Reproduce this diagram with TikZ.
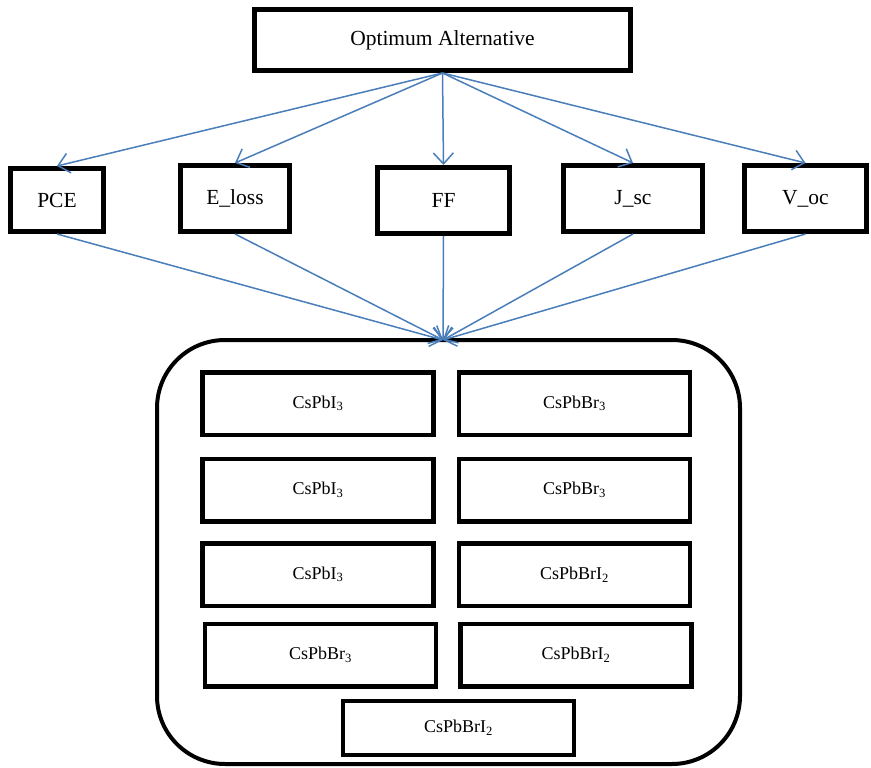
\documentclass[tikz,border=0pt]{standalone}
\usepackage{fontspec}
\setmainfont{Liberation Serif}
\usetikzlibrary{arrows.meta}
\definecolor{arrowblue}{HTML}{4A7EBB}
\begin{document}
\begin{tikzpicture}[x=1pt,y=-1pt,
  topbox/.style={draw,line width=5pt,inner sep=0pt,font=\fontsize{21.5}{24}\selectfont},
  innerbox/.style={draw,line width=4.5pt,inner sep=0pt,minimum width=231pt,minimum height=62.5pt,font=\fontsize{18}{21}\selectfont},
  conn/.style={draw=arrowblue,line width=1.5pt,-{Straight Barb[length=11pt,width=20pt,line width=1.5pt]}}]
\useasboundingbox (0,0) rectangle (871,768);
% container
\node[draw,line width=4pt,rounded corners=68pt,minimum width=583pt,minimum height=424pt,inner sep=0pt] (group) at (448.5,552) {};
\coordinate (conv) at (443,340);
% top
\node[topbox,minimum width=376pt,minimum height=61pt] (opt) at (442.5,40) {Optimum Alternative};
\node[topbox,minimum width=93pt,minimum height=63pt] (pce) at (57,200) {PCE};
\node[topbox,minimum width=109pt,minimum height=66pt] (eloss) at (235,198.5) {E\_loss};
\node[topbox,minimum width=132pt,minimum height=66pt] (ff) at (443.5,200.5) {FF};
\node[topbox,minimum width=139pt,minimum height=66pt] (jsc) at (633,198.5) {J\_sc};
\node[topbox,minimum width=122pt,minimum height=66pt] (voc) at (805.5,198.5) {V\_oc};
% inner boxes
\node[innerbox] (a1) at (318,403.5) {CsPbI\textsubscript{3}};
\node[innerbox] (b1) at (574.5,403.5) {CsPbBr\textsubscript{3}};
\node[innerbox] (a2) at (318,490) {CsPbI\textsubscript{3}};
\node[innerbox] (b2) at (574.5,490) {CsPbBr\textsubscript{3}};
\node[innerbox] (a3) at (318,574.5) {CsPbI\textsubscript{3}};
\node[innerbox] (b3) at (574.5,574.5) {CsPbBrI\textsubscript{2}};
\node[innerbox] (a4) at (320.5,655) {CsPbBr\textsubscript{3}};
\node[innerbox] (b4) at (576,655) {CsPbBrI\textsubscript{2}};
\node[innerbox,minimum height=54pt] (c5) at (458.5,728) {CsPbBrI$_{\mathrm{2}}$};
% connectors
\foreach \n in {pce,eloss,ff,jsc,voc}{
  \draw[conn] (opt.south) -- (\n.north);
  \draw[conn] (\n.south) -- (conv);
}
\end{tikzpicture}
\end{document}
